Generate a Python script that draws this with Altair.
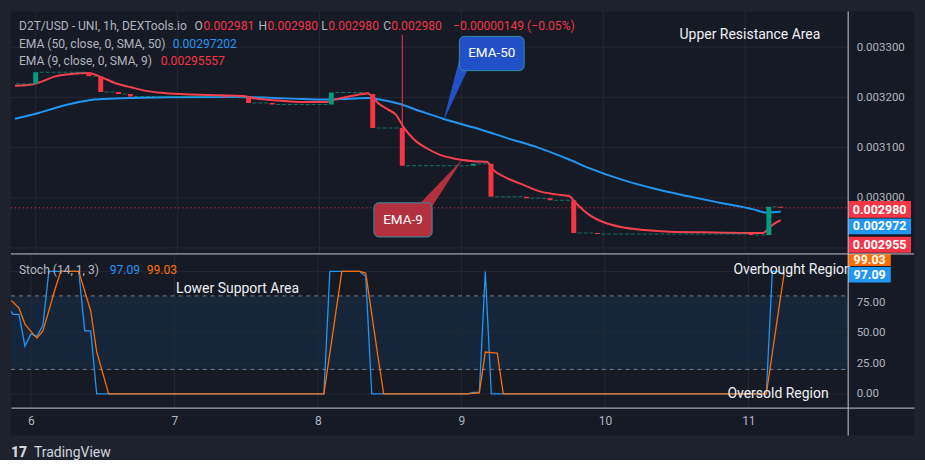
import altair as alt
import pandas as pd

# ------------------------------------------------------------------ data
# hourly candles, hour 0 = day 6 00:00 ; open of each candle = previous close
candle_hours = list(range(-3, 127))
candle_close = [
    0.003227, 0.003227, 0.003227, 0.003250, 0.003250, 0.003250, 0.003250, 0.003250, 0.003250, 0.003250,
    0.003250, 0.003250, 0.003242, 0.003242, 0.003211, 0.003211, 0.003211, 0.003207, 0.003207, 0.003202,
    0.003202, 0.003202, 0.003202, 0.003202, 0.003202, 0.003202, 0.003202, 0.003202, 0.003202, 0.003202,
    0.003202, 0.003202, 0.003202, 0.003202, 0.003202, 0.003200, 0.003200, 0.003200, 0.003200, 0.003189,
    0.003189, 0.003189, 0.003189, 0.003186, 0.003186, 0.003186, 0.003186, 0.003186, 0.003186, 0.003186,
    0.003186, 0.003186, 0.003186, 0.003210, 0.003210, 0.003210, 0.003210, 0.003210, 0.003210, 0.003207,
    0.003139, 0.003139, 0.003139, 0.003139, 0.003139, 0.003064, 0.003064, 0.003064, 0.003064, 0.003064,
    0.003064, 0.003064, 0.003064, 0.003064, 0.003064, 0.003064, 0.003064, 0.003068, 0.003068, 0.003068,
    0.003002, 0.003002, 0.003002, 0.003002, 0.003002, 0.003002, 0.002999, 0.002999, 0.002999, 0.002999,
    0.002995, 0.002995, 0.002995, 0.002995, 0.002930, 0.002930, 0.002930, 0.002930, 0.002928, 0.002928,
    0.002928, 0.002928, 0.002928, 0.002928, 0.002928, 0.002928, 0.002928, 0.002928, 0.002928, 0.002928,
    0.002928, 0.002928, 0.002928, 0.002928, 0.002928, 0.002928, 0.002928, 0.002928, 0.002928, 0.002928,
    0.002928, 0.002928, 0.002928, 0.002928, 0.002926, 0.002926, 0.002926, 0.002982, 0.002982, 0.002980,
]
wick_hours = [62]
wick_high = [0.003325]
wick_low = [0.003064]

ema50_hours = [-3.5, -1.7, 0.5, 3.3, 6.2, 10.0, 14.5, 22.9, 33.9, 45.1, 49.2, 53.0, 56.3, 58.4, 61.3,
               65.1, 68.9, 75.6, 79.6, 85.1, 90.2, 93.5, 99.0, 104.7, 110.2, 115.7, 121.4, 123.5, 126.0]
ema50_vals = [0.0031575, 0.0031624, 0.0031690, 0.0031789, 0.0031877, 0.0031956, 0.0031982, 0.0032002,
              0.0032008, 0.0031968, 0.0031956, 0.0031975, 0.0031988, 0.0031952, 0.0031877, 0.0031724,
              0.0031574, 0.0031346, 0.0031193, 0.0030994, 0.0030763, 0.0030596, 0.0030366, 0.0030179,
              0.0030034, 0.0029901, 0.0029769, 0.0029706, 0.0029720]

ema9_hours = [-3.5, -1.7, 0.0, 1.1, 3.3, 6.1, 8.8, 11.1, 13.4, 16.1, 18.4, 21.7, 26.2, 31.2, 35.1, 37.3,
              41.2, 45.1, 49.2, 50.6, 53.4, 56.2, 57.0, 57.9, 59.6, 60.9, 62.3, 64.0, 66.2, 68.4, 70.7,
              74.0, 76.3, 77.3, 79.6, 82.3, 85.1, 88.0, 90.2, 91.3, 93.5, 96.3, 99.0, 103.0, 107.3,
              113.0, 123.0, 124.0, 125.0, 126.0]
ema9_vals = [0.0032232, 0.0032241, 0.0032274, 0.0032320, 0.0032419, 0.0032465, 0.0032485, 0.0032405,
             0.0032286, 0.0032201, 0.0032135, 0.0032087, 0.0032056, 0.0032042, 0.0032028, 0.0031976,
             0.0031936, 0.0031908, 0.0031908, 0.0031956, 0.0032028, 0.0032076, 0.0032002, 0.0031889,
             0.0031757, 0.0031658, 0.0031392, 0.0031161, 0.0030982, 0.0030855, 0.0030783, 0.0030730,
             0.0030716, 0.0030565, 0.0030398, 0.0030266, 0.0030133, 0.0030068, 0.0030034, 0.0029901,
             0.0029670, 0.0029503, 0.0029418, 0.0029358, 0.0029324, 0.0029312, 0.0029298, 0.0029400,
             0.0029490, 0.0029556]

k_hours = [-4, -3, -2, -1, 0, 1, 2, 3, 8, 9, 10, 11, 49, 50, 55, 56, 57, 73, 74, 75, 76, 77, 123, 124, 125, 126]
k_vals = [72, 65, 65, 39, 49, 47, 56, 100, 100, 51.5, 51.5, 0, 0, 100, 100, 96, 0, 0, 1.3, 1.3, 100, 0, 0,
          100, 100, 97.09]
d_hours = [-4, -3, -2, -1, 0, 1, 2, 3, 4, 5, 8, 9, 10, 11, 12, 13, 49, 50, 51, 52, 55, 56, 57, 58, 59,
           73, 74, 75, 76, 77, 78, 79, 123, 124, 125, 126]
d_vals = [78, 75, 70, 57, 51, 45.6, 51.5, 68, 85, 100, 100, 83.8, 67.7, 34.3, 17.2, 0, 0, 33.3, 66.7, 100,
          100, 98.7, 65.3, 32, 0, 0, 0.4, 0.9, 34.2, 33.8, 33.3, 0, 0, 33.3, 66.5, 99.03]

price_grid = [0.0029, 0.0030, 0.0031, 0.0032, 0.0033]
price_labels = [0.0030, 0.0031, 0.0032, 0.0033]
stoch_grid = [0, 25, 50, 75, 100]
stoch_labels = [0, 25, 50, 75]
day_ticks = [6, 7, 8, 9, 10, 11]
last_price = 0.002980
stoch_band = [20, 80]

# ------------------------------------------------------------------ style
FONT = "Roboto"
OUTER = "#1e222d"
INNER = "#161a25"
GRID = "#242834"
SEP = "#c3c6ce"
TXT = "#b2b5be"
WHITE = "#eef0f4"
GREEN = "#089981"
RED = "#f23645"
BLUE = "#2196f3"
ORANGE = "#ff6d00"
W, W_PLOT = 905, 839
H_TOP, H_BOT = 243, 154
HF = 12.1  # header font size

x_scale = alt.Scale(domain=[5.8609, 12.1544], nice=False, zero=False)
p_scale = alt.Scale(domain=[0.0028881, 0.0033712], nice=False, zero=False)
s_scale = alt.Scale(domain=[-11.16, 114.25], nice=False, zero=False)

y_top_axis = alt.Axis(orient="right", offset=-(W - W_PLOT), values=price_labels, format=".6f",
                      labelColor=TXT, labelFont=FONT, labelFontSize=11.5, ticks=False, domain=False,
                      grid=False, labelPadding=8, title=None)
y_bot_axis = alt.Axis(orient="right", offset=-(W - W_PLOT), values=stoch_labels, format=".2f",
                      labelColor=TXT, labelFont=FONT, labelFontSize=11.5, ticks=False, domain=False,
                      grid=False, labelPadding=8, title=None)
x_bot_axis = alt.Axis(values=day_ticks, format="d", labelColor=TXT, labelFont=FONT, labelFontSize=12,
                      ticks=False, domain=True, domainColor=SEP, grid=False, labelPadding=8,
                      zindex=1, title=None)


def XT(f):
    return alt.X(f, scale=x_scale, axis=None)


def YT(f):
    return alt.Y(f, scale=p_scale, axis=y_top_axis)


def XB(f):
    return alt.X(f, scale=x_scale, axis=x_bot_axis)


def YB(f):
    return alt.Y(f, scale=s_scale, axis=y_bot_axis)


def to_day(h):
    return 6 + h / 24.0


one = pd.DataFrame({"a": [0]})


def ptext(text, x, y, color, size=HF, weight="normal", align="left", clip=False):
    return alt.Chart(pd.DataFrame({"t": [text]})).mark_text(
        align=align, baseline="middle", font=FONT, fontSize=size, fontWeight=weight,
        color=color, clip=clip).encode(x=alt.value(x), y=alt.value(y), text="t:N")


def prect(x, x2, y, y2, color, clip=False):
    return alt.Chart(one).mark_rect(color=color, clip=clip).encode(
        x=alt.value(x), x2=alt.value(x2), y=alt.value(y), y2=alt.value(y2))


def prule(x, x2, y, y2, color, width=1):
    return alt.Chart(one).mark_rule(color=color, strokeWidth=width, clip=False).encode(
        x=alt.value(x), x2=alt.value(x2), y=alt.value(y), y2=alt.value(y2))


# ------------------------------------------------------------------ tables
opens = [candle_close[0]] + candle_close[:-1]
cdf = pd.DataFrame({"day": [to_day(h) for h in candle_hours], "open": opens, "close": candle_close})
doji = cdf[cdf["open"] == cdf["close"]]
body = cdf[cdf["open"] != cdf["close"]]
wdf = pd.DataFrame({"day": [to_day(h) for h in wick_hours], "hi": wick_high, "lo": wick_low})
e50 = pd.DataFrame({"day": [to_day(h) for h in ema50_hours], "v": ema50_vals})
e9 = pd.DataFrame({"day": [to_day(h) for h in ema9_hours], "v": ema9_vals})
kdf = pd.DataFrame({"day": [to_day(h) for h in k_hours], "v": k_vals})
ddf = pd.DataFrame({"day": [to_day(h) for h in d_hours], "v": d_vals})

# ------------------------------------------------------------------ top panel
hgrid = alt.Chart(pd.DataFrame({"p": price_grid})).mark_rule(color=GRID).encode(
    y=YT("p:Q"), x=alt.value(0), x2=alt.value(W_PLOT))
vgrid = alt.Chart(pd.DataFrame({"d": day_ticks})).mark_rule(color=GRID).encode(x=XT("d:Q"))
last_line = alt.Chart(pd.DataFrame({"p": [last_price]})).mark_rule(
    color=RED, strokeDash=[1, 3], strokeWidth=1).encode(y=YT("p:Q"), x=alt.value(0), x2=alt.value(W_PLOT))
ema50_line = alt.Chart(e50).mark_line(color=BLUE, strokeWidth=2, interpolate="monotone", clip=True).encode(
    x=XT("day:Q"), y=YT("v:Q"))
ema9_line = alt.Chart(e9).mark_line(color="#f5404f", strokeWidth=2, interpolate="monotone", clip=True).encode(
    x=XT("day:Q"), y=YT("v:Q"))
wicks = alt.Chart(wdf).mark_rule(color=RED, strokeWidth=1).encode(x=XT("day:Q"), y=YT("hi:Q"), y2="lo:Q")
doji_marks = alt.Chart(doji).mark_tick(orient="horizontal", size=4, thickness=1, color=GREEN, clip=True).encode(
    x=XT("day:Q"), y=YT("close:Q"))
bodies = alt.Chart(body).mark_bar(size=5, clip=True).encode(
    x=XT("day:Q"), y=YT("open:Q"), y2="close:Q",
    color=alt.condition("datum.close > datum.open", alt.value(GREEN), alt.value(RED)))

# callouts (positions in data units)
c50_box = pd.DataFrame({"x": [8.9854], "x2": [9.4423], "y": [0.0033215], "y2": [0.0032533]})
c50_ptr = pd.DataFrame({"day": [8.8790, 9.0250], "v": [0.0031578, 0.0032718], "w": [0.5, 12]})
c9_box = pd.DataFrame({"x": [8.3832], "x2": [8.7935], "y": [0.0029901], "y2": [0.0029219]})
c9_ptr = pd.DataFrame({"day": [8.7400, 8.9972], "v": [0.0029810, 0.0030730], "w": [12, 0.5]})
C50_FILL, C9_FILL, C_EDGE = "#2251c7", "#b3303f", "#2e8fa3"


def callout(box, ptr, fill, label, lx, ly):
    tr = alt.Chart(ptr).mark_trail(color=fill).encode(
        x=XT("day:Q"), y=YT("v:Q"), size=alt.Size("w:Q", scale=None, legend=None))
    bx = alt.Chart(box).mark_rect(color=fill, stroke=C_EDGE, strokeWidth=1, cornerRadius=5).encode(
        x=XT("x:Q"), x2="x2:Q", y=YT("y:Q"), y2="y2:Q")
    tx = alt.Chart(pd.DataFrame({"t": [label], "x": [lx], "y": [ly]})).mark_text(
        font=FONT, fontSize=13.5, color="#ffffff", align="center", baseline="middle").encode(
        x=XT("x:Q"), y=YT("y:Q"), text="t:N")
    return [tr, bx, tx]


header = [
    ptext("D2T/USD - UNI, 1h, DEXTools.io", 8, 14.5, TXT),
    ptext("O", 184, 14.5, TXT), ptext("0.002981", 193, 14.5, RED),
    ptext("H", 248, 14.5, TXT), ptext("0.002980", 257, 14.5, RED),
    ptext("L", 311, 14.5, TXT), ptext("0.002980", 318, 14.5, RED),
    ptext("C", 373, 14.5, TXT), ptext("0.002980", 381, 14.5, RED),
    ptext("\u22120.00000149 (\u22120.05%)", 443, 14.5, RED),
    ptext("EMA (50, close, 0, SMA, 50)", 8, 32.5, TXT), ptext("0.00297202", 162, 32.5, BLUE),
    ptext("EMA (9, close, 0, SMA, 9)", 8, 49.5, TXT), ptext("0.00295557", 150, 49.5, RED),
    ptext("Upper Resistance Area", 670, 23.5, WHITE, size=14),
]

badges_top = [
    prect(W_PLOT, 902, 190, 206.7, RED), ptext("0.002980", 870.5, 198.5, "#ffffff", 12.5, "bold", "center"),
    prect(W_PLOT, 902, 207.5, 223.3, BLUE), ptext("0.002972", 870.5, 215.5, "#ffffff", 12.5, "bold", "center"),
    prect(W_PLOT, 902, 225.7, 241.7, RED), ptext("0.002955", 870.5, 233.7, "#ffffff", 12.5, "bold", "center"),
]

top_layers = ([hgrid, vgrid, last_line, ema50_line, ema9_line, wicks, doji_marks, bodies]
              + callout(c50_box, c50_ptr, C50_FILL, "EMA-50", 9.2138, 0.0032877)
              + callout(c9_box, c9_ptr, C9_FILL, "EMA-9", 8.5883, 0.0029557)
              + header + badges_top
              + [prule(W_PLOT, W_PLOT, 0, H_TOP, SEP)])
top = alt.layer(*top_layers).properties(width=W, height=H_TOP)

# ------------------------------------------------------------------ bottom panel
band = alt.Chart(pd.DataFrame({"lo": [stoch_band[0]], "hi": [stoch_band[1]]})).mark_rect(
    color=BLUE, opacity=0.1).encode(y=YB("lo:Q"), y2="hi:Q", x=alt.value(0), x2=alt.value(W_PLOT))
s_hgrid = alt.Chart(pd.DataFrame({"s": stoch_grid})).mark_rule(color=GRID).encode(
    y=YB("s:Q"), x=alt.value(0), x2=alt.value(W_PLOT))
s_vgrid = alt.Chart(pd.DataFrame({"d": day_ticks})).mark_rule(color=GRID).encode(x=XB("d:Q"))
s_dash = alt.Chart(pd.DataFrame({"s": stoch_band})).mark_rule(color="#787b86", strokeDash=[4, 4]).encode(
    y=YB("s:Q"), x=alt.value(0), x2=alt.value(W_PLOT))
k_line = alt.Chart(kdf).mark_line(color=BLUE, strokeWidth=1.3, clip=True).encode(x=XB("day:Q"), y=YB("v:Q"))
d_line = alt.Chart(ddf).mark_line(color=ORANGE, strokeWidth=1.3, clip=True).encode(x=XB("day:Q"), y=YB("v:Q"))

bot_texts = [
    ptext("Stoch (14, 1, 3)", 8, 16.5, TXT), ptext("97.09", 99, 16.5, BLUE), ptext("99.03", 136, 16.5, ORANGE),
    ptext("Lower Support Area", 165.5, 35.5, WHITE, size=14),
    ptext("Overbought Region", 724, 16.5, WHITE, size=14),
    ptext("Oversold Region", 718, 140, WHITE, size=14),
]
badges_bot = [
    prect(W_PLOT, 881.7, 0, 12, ORANGE),
    ptext("99.03", 860.5, 6.5, "#ffffff", 12.5, "bold", "center"),
    prect(W_PLOT, 881.7, 13, 28.7, BLUE), ptext("97.09", 860.5, 21, "#ffffff", 12.5, "bold", "center"),
]
frame_bits = [
    prect(0, W, H_BOT, H_BOT + 28, INNER),
    prule(W_PLOT, W_PLOT, 0, H_BOT + 28, SEP),
    prule(0, W, 0, 0, SEP),
    ptext("17", 0, 199, "#d1d4dc", 14, 900),
    ptext("TradingView", 23, 199, "#d1d4dc", 14),
]
bot_layers = [frame_bits[0], band, s_hgrid, s_vgrid, s_dash, k_line, d_line] + bot_texts + badges_bot + frame_bits[1:]
bottom = alt.layer(*bot_layers).properties(width=W, height=H_BOT)

chart = alt.vconcat(top, bottom, spacing=0, bounds="flush").properties(
    padding={"left": 10, "top": 10, "right": 10, "bottom": 0}, background=OUTER
).configure_view(fill=INNER, strokeWidth=0)

chart.save("out.html", embed_options={"renderer": "svg", "actions": False})
